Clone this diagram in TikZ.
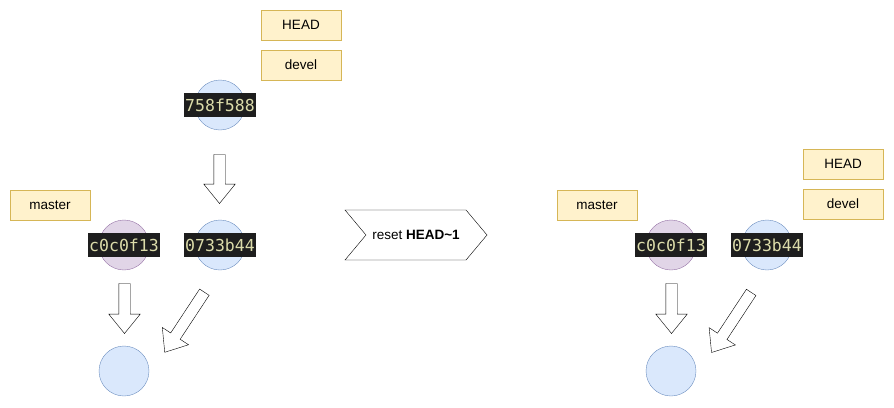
\documentclass[tikz,border=0pt]{standalone}
\usepackage{fontspec}
\setmainfont{Liberation Sans}
\newfontfamily\hashfont{DejaVu Sans Mono}
\usetikzlibrary{shapes.arrows,shapes.symbols}
\definecolor{reffill}{HTML}{FFF2CC}
\definecolor{refline}{HTML}{D6B656}
\definecolor{bluefill}{HTML}{DAE8FC}
\definecolor{blueline}{HTML}{6C8EBF}
\definecolor{purplefill}{HTML}{E1D5E7}
\definecolor{purpleline}{HTML}{9673A6}
\definecolor{hashbg}{HTML}{1E1E1E}
\definecolor{hashfg}{HTML}{DCDCAA}
\begin{document}
\begin{tikzpicture}[x=1pt,y=-1pt,
    ref/.style={draw=refline,fill=reffill,minimum width=80pt,minimum height=30pt,
      inner sep=0pt,font=\fontsize{13.5}{16}\selectfont},
    commit/.style={circle,draw=blueline,fill=bluefill,minimum size=50pt,inner sep=0pt},
    merged/.style={commit,draw=purpleline,fill=purplefill},
    hash/.style={fill=hashbg,text=hashfg,inner xsep=1pt,inner ysep=1pt,
      text height=17pt,text depth=5pt,font=\hashfont\fontsize{16.5}{18}\selectfont},
    block/.style={single arrow,draw,fill=white,inner sep=0pt,text height=11pt,
      single arrow head extend=10pt,single arrow tip angle=78,minimum height=#1}]
  \useasboundingbox (0,0) rectangle (894,407);
  % before
  \node[ref] (head) at (301,25) {HEAD};
  \node[ref] (devel) at (301,65) {devel};
  \node[commit] (top) at (220,105) {};
  \node[hash] (toplbl) at (top) {758f588};
  \node[block=49pt,rotate=-90] (toparr) at (219.5,175.5) {};
  \node[ref] (master) at (50,205) {master};
  \node[merged] (left) at (124,245) {};
  \node[hash] (leftlbl) at (left) {c0c0f13};
  \node[commit] (right) at (220,245) {};
  \node[hash] (rightlbl) at (right) {0733b44};
  \node[block=50pt,rotate=-90] (leftarr) at (124.5,305) {};
  \node[block=72pt,rotate=236.6] (rightarr) at (186.5,319.3) {};
  \node[commit] (base) at (124,371) {};
  % the command
  \node[signal,signal to=east,signal from=west,signal pointer angle=100,draw,
    minimum width=142pt,minimum height=50pt,font=\fontsize{13.5}{16}\selectfont]
    (reset) at (416,235) {reset \textbf{HEAD\textasciitilde1}};
  % after
  \node[ref] (head2) at (843,164) {HEAD};
  \node[ref] (devel2) at (843,204) {devel};
  \node[ref] (master2) at (597,205) {master};
  \node[merged] (left2) at (671,245) {};
  \node[hash] (leftlbl2) at (left2) {c0c0f13};
  \node[commit] (right2) at (767,245) {};
  \node[hash] (rightlbl2) at (right2) {0733b44};
  \node[block=50pt,rotate=-90] (leftarr2) at (671.5,305) {};
  \node[block=72pt,rotate=236.6] (rightarr2) at (733.3,319.5) {};
  \node[commit] (base2) at (671,371) {};
\end{tikzpicture}
\end{document}
